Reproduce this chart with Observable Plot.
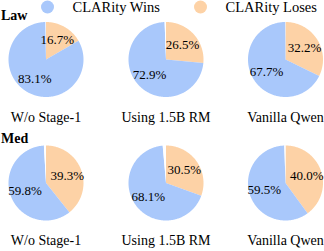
<!DOCTYPE html>
<html>
<head>
<meta charset="utf-8">
<script src="https://cdn.jsdelivr.net/npm/d3@7"></script>
<script src="https://cdn.jsdelivr.net/npm/@observablehq/plot@0.6"></script>
<style>
  html, body { margin: 0; padding: 0; background: #fff; }
  svg text { font-family: "Liberation Serif", "Times New Roman", serif; }
</style>
</head>
<body>
<div id="chart"></div>
<script>
const methods = ["W/o Stage-1", "Using 1.5B RM", "Vanilla Qwen"];
const domains = ["Law", "Med"];
const seriesNames = ["CLARity Wins", "CLARity Loses"];
const lawWins = [83.1, 72.9, 67.7];
const lawLoses = [16.7, 26.5, 32.2];
const medWins = [59.8, 68.1, 59.5];
const medLoses = [39.3, 30.5, 40.0];

const colors = {"CLARity Wins": "#a9c8fb", "CLARity Loses": "#fdd2a6", "Tie": "#ffffff"};
const FONT = "Liberation Serif, Times New Roman, serif";

const W = 324, H = 251;
const colX = [45.5, 165.5, 285];
const rowY = [59, 182.5];
const R = 37.5;

const winsBy = {Law: lawWins, Med: medWins};
const losesBy = {Law: lawLoses, Med: medLoses};

const polys = [];
const labels = [];
const pie = d3.pie().sort(null).value(d => d.v).startAngle(0).endAngle(2 * Math.PI);

domains.forEach((dom, r) => {
  methods.forEach((m, c) => {
    const l = losesBy[dom][c], w = winsBy[dom][c];
    const parts = [
      {name: "CLARity Loses", v: l},
      {name: "CLARity Wins", v: w},
      {name: "Tie", v: Math.max(0, 100 - l - w)}
    ];
    const cx = colX[c], cy = rowY[r];
    pie(parts).forEach((a, k) => {
      const id = `${dom}-${c}-${k}`;
      polys.push({id, name: a.data.name, x: cx, y: cy});
      const n = Math.max(2, Math.ceil((a.endAngle - a.startAngle) / (Math.PI / 180)));
      for (let j = 0; j <= n; j++) {
        const t = a.startAngle + (a.endAngle - a.startAngle) * j / n;
        polys.push({id, name: a.data.name, x: cx + R * Math.sin(t), y: cy - R * Math.cos(t)});
      }
      if (a.data.name !== "Tie") {
        const mid = (a.startAngle + a.endAngle) / 2;
        labels.push({x: cx + 0.6 * R * Math.sin(mid), y: cy - 0.6 * R * Math.cos(mid), text: a.data.v.toFixed(1) + "%"});
      }
    });
  });
});

const methodLabels = [];
domains.forEach((dom, r) => methods.forEach((m, c) => methodLabels.push({x: colX[c], y: rowY[r] + 62, text: m})));
const domainLabels = domains.map((d, r) => ({x: 0.5, y: rowY[r] - 40, text: d}));
const legend = [
  {x: 47, y: 6.5, tx: 72, name: seriesNames[0]},
  {x: 200, y: 6.5, tx: 225, name: seriesNames[1]}
];

const chart = Plot.plot({
  width: W,
  height: H,
  margin: 0,
  x: {domain: [0, W], range: [0, W], axis: null},
  y: {domain: [0, H], range: [0, H], axis: null},
  color: {domain: Object.keys(colors), range: Object.values(colors)},
  style: {fontFamily: FONT, background: "#fff"},
  marks: [
    Plot.line(polys, {x: "x", y: "y", z: "id", fill: "name", stroke: "none", curve: "linear-closed"}),
    Plot.text(labels, {x: "x", y: "y", text: "text", fontSize: 13, fontFamily: FONT, fill: "#000"}),
    Plot.text(methodLabels, {x: "x", y: "y", text: "text", fontSize: 14, fontFamily: FONT, fill: "#000", lineAnchor: "bottom"}),
    Plot.text(domainLabels, {x: "x", y: "y", text: "text", fontSize: 14, fontFamily: FONT, fontWeight: "bold", fill: "#000", textAnchor: "start", lineAnchor: "bottom"}),
    Plot.dot(legend, {x: "x", y: "y", r: 6.5, fill: "name", stroke: "none"}),
    Plot.text(legend, {x: "tx", y: "y", text: "name", fontSize: 14.5, fontFamily: FONT, fill: "#000", textAnchor: "start"})
  ]
});
document.getElementById("chart").appendChild(chart);
</script>
</body>
</html>
